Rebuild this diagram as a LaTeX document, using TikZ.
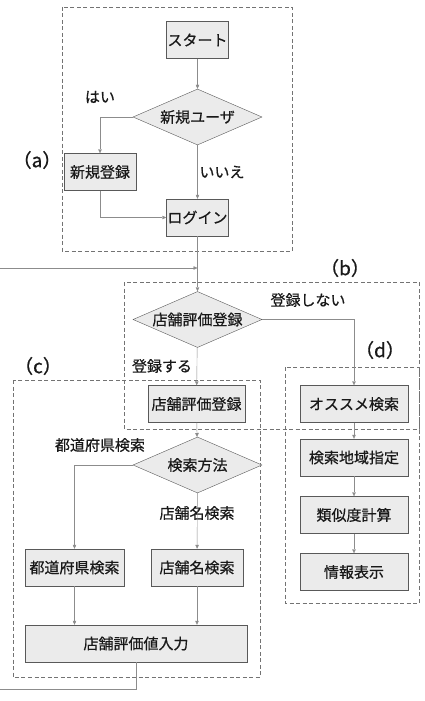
\documentclass[tikz,border=0pt]{standalone}
\usepackage{fontspec}
\setmainfont{Noto Sans CJK JP}[AutoFakeBold=0.6]
\usetikzlibrary{arrows.meta,shapes.geometric}

\begin{document}
\begin{tikzpicture}[x=1pt, y=-1pt,
	every node/.style={font=\fontsize{15}{18}\selectfont\bfseries, text=black!90},
	box/.style={draw=black!65, fill=black!8, minimum height=37pt, inner sep=1pt},
	decision/.style={diamond, draw=black!65, fill=black!8, aspect=2.3, minimum width=129pt, minimum height=56pt, inner sep=0pt},
	frame/.style={draw=black!55, dash pattern=on 4pt off 2.5pt},
	line/.style={draw=black!45},
	tag/.style={font=\fontsize{19}{22}\selectfont\bfseries},
	>={Triangle[length=4pt,width=3.5pt]}]
	\useasboundingbox (0,0) rectangle (425,701);
	% dashed groups
	\draw[frame] (62,7) rectangle (292,251);
	\draw[frame] (124,282) rectangle (419,429);
	\draw[frame] (13,380) rectangle (260,677);
	\draw[frame] (285,367) rectangle (419,603);
	\node[tag] (taga) at (37,160) {（a）};
	\node[tag] (tagb) at (345,268) {（b）};
	\node[tag] (tagc) at (38,366) {（c）};
	\node[tag] (tagd) at (380,350) {（d）};
	% (a) login
	\node[box, minimum width=61pt] (start) at (197.5,40) {スタート};
	\node[decision] (newuser) at (197.5,117) {新規ユーザ};
	\node[box, minimum width=72pt] (register) at (100,172) {新規登録};
	\node[box, minimum width=61pt] (login) at (197.5,217.5) {ログイン};
	\node (yes) at (100,97) {はい};
	\node (no) at (222,172) {いいえ};
	% (b) evaluation
	\node[decision] (evaldec) at (197.5,319.5) {店舗評価登録};
	\node[box, minimum width=97pt] (evalbox) at (196.5,404) {店舗評価登録};
	\node (skip) at (308,300) {登録しない};
	\node (doreg) at (162,366) {登録する};
	% (c) shop search
	\node[decision] (method) at (197.5,465) {検索方法};
	\node[box, minimum width=99pt] (prefsearch) at (74.5,567.5) {都道府県検索};
	\node[box, minimum width=92pt] (namesearch) at (197,567.5) {店舗名検索};
	\node[box, minimum width=222pt] (evalinput) at (136,643.5) {店舗評価値入力};
	\node (bypref) at (100,445) {都道府県検索};
	\node (byname) at (197,513) {店舗名検索};
	% (d) recommendation
	\node[box, minimum width=108pt] (recsearch) at (354,404) {オススメ検索};
	\node[box, minimum width=108pt] (area) at (354,457.5) {検索地域指定};
	\node[box, minimum width=108pt] (simcalc) at (354,515) {類似度計算};
	\node[box, minimum width=108pt] (info) at (354,572) {情報表示};
	% connectors
	\coordinate (join) at (197.5,268);
	\draw[line,->] (start) -- (newuser);
	\draw[line,->] (newuser.west) -| (register.north);
	\draw[line,->] (newuser) -- (login);
	\draw[line,->] (register.south) |- (login.west);
	\draw[line,->] (login) -- (evaldec);
	\draw[line,->] (evaldec) -- (evalbox);
	\draw[line,->] (evaldec.east) -| (recsearch.north);
	\draw[line,->] (evalbox) -- (method);
	\draw[line,->] (method.west) -| (prefsearch.north);
	\draw[line,->] (method) -- (namesearch);
	\draw[line,->] (prefsearch.south) -- (prefsearch.south |- evalinput.north);
	\draw[line,->] (namesearch.south) -- (namesearch.south |- evalinput.north);
	\draw[line,->] (evalinput.south) |- (-3,689) |- (join);
	\draw[line,->] (recsearch) -- (area);
	\draw[line,->] (area) -- (simcalc);
	\draw[line,->] (simcalc) -- (info);
\end{tikzpicture}
\end{document}
